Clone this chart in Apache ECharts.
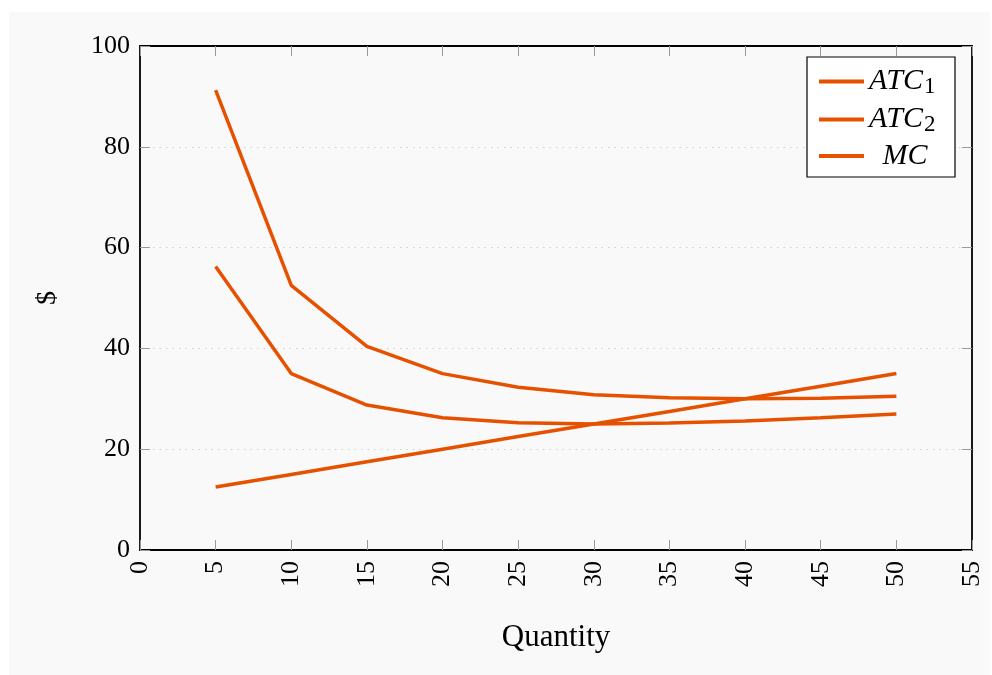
<!DOCTYPE html>
<html>
<head>
<meta charset="utf-8">
<script src="https://cdn.jsdelivr.net/npm/echarts@6/dist/echarts.min.js"></script>
<style>html,body{margin:0;padding:0;background:#fff}#c{width:992px;height:675px}</style>
</head>
<body>
<div id="c"></div>
<script>
const quantity = [5, 10, 15, 20, 25, 30, 35, 40, 45, 50];
const atc1 = [91.25, 52.5, 40.4, 35, 32.3, 30.8, 30.2, 30, 30.1, 30.5];
const atc2 = [56.25, 35, 28.75, 26.25, 25.25, 25, 25.2, 25.6, 26.25, 27];
const mc = [12.5, 15, 17.5, 20, 22.5, 25, 27.5, 30, 32.5, 35];
const seriesNames = ['ATC1', 'ATC2', 'MC'];
const xTicks = [0, 5, 10, 15, 20, 25, 30, 35, 40, 45, 50, 55];
const yTicks = [0, 20, 40, 60, 80, 100];

const color = '#e65100';
const serif = '"Liberation Serif", "DejaVu Serif", serif';
const pair = (xs, ys) => xs.map((x, i) => [x, ys[i]]);

const chart = echarts.init(document.getElementById('c'), null, {renderer: 'canvas'});
const mkSeries = (name, ys) => ({
  name, type: 'line', data: pair(quantity, ys), xAxisIndex: 0, yAxisIndex: 0,
  symbol: 'none', lineStyle: {color, width: 3.5}, itemStyle: {color}, z: 5
});
const legendLabels = {
  'ATC1': '{i|ATC}{s|1}',
  'ATC2': '{i|ATC}{s|2}',
  'MC': '{m|MC}'
};
const baseAxis = () => ({
  min: 0, type: 'value',
  axisLine: {show: true, onZero: false, lineStyle: {color: '#000', width: 1.8}},
  axisTick: {show: true, inside: true, length: 10, lineStyle: {color: '#999', width: 1}},
  splitLine: {show: false}
});
chart.setOption({
  animation: false,
  backgroundColor: '#fff',
  graphic: [{type: 'rect', shape: {x: 9, y: 12, width: 981, height: 663}, style: {fill: '#f9f9f9'}, z: -10, silent: true}],
  grid: {left: 140, right: 20, top: 46, bottom: 125, containLabel: false},
  legend: {
    data: seriesNames,
    orient: 'vertical',
    right: 37, top: 57,
    backgroundColor: '#fff',
    borderColor: '#000', borderWidth: 1.2, borderRadius: 0,
    padding: [8, 14, 6, 12],
    itemGap: 5,
    itemWidth: 45, itemHeight: 4,
    icon: 'rect',
    formatter: n => legendLabels[n],
    textStyle: {
      fontFamily: serif, fontSize: 30, color: '#000',
      rich: {
        i: {fontFamily: serif, fontStyle: 'italic', fontSize: 30, lineHeight: 33, color: '#000'},
        s: {fontFamily: serif, fontSize: 23, lineHeight: 33, color: '#000', padding: [10, 0, 0, 1]},
        m: {fontFamily: serif, fontStyle: 'italic', fontSize: 30, lineHeight: 33, color: '#000', width: 72, align: 'center'}
      }
    }
  },
  xAxis: [
    Object.assign(baseAxis(), {
      position: 'bottom', max: 55, interval: 5,
      name: 'Quantity', nameLocation: 'middle', nameGap: 72,
      nameTextStyle: {fontFamily: serif, fontSize: 31, color: '#000'},
      axisLabel: {rotate: 90, fontFamily: serif, fontSize: 26, color: '#000', margin: 11,
        formatter: v => xTicks.includes(v) ? String(v) : ''}
    }),
    Object.assign(baseAxis(), {
      position: 'top', max: 55, interval: 5, axisLabel: {show: false}
    })
  ],
  yAxis: [
    Object.assign(baseAxis(), {
      position: 'left', max: 100, interval: 20,
      name: '$', nameLocation: 'middle', nameGap: 78, nameRotate: 90,
      nameTextStyle: {fontFamily: serif, fontSize: 28, color: '#000'},
      axisLabel: {fontFamily: serif, fontSize: 26, color: '#000', margin: 10,
        formatter: v => yTicks.includes(v) ? String(v) : ''},
      splitLine: {show: true, lineStyle: {color: '#d0d0d0', type: [1.5, 5], width: 1}}
    }),
    Object.assign(baseAxis(), {
      position: 'right', max: 100, interval: 20, axisLabel: {show: false}
    })
  ],
  series: [mkSeries('ATC1', atc1), mkSeries('ATC2', atc2), mkSeries('MC', mc)]
});
</script>
</body>
</html>
